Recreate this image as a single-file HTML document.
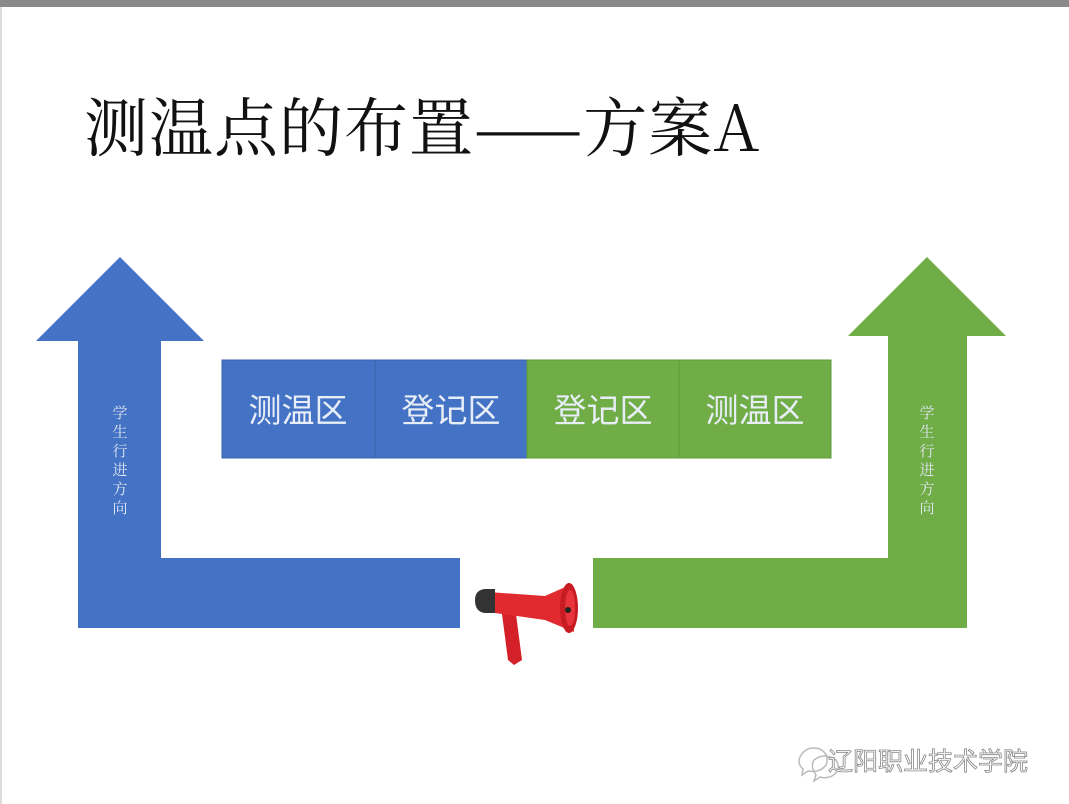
<!DOCTYPE html>
<html><head><meta charset="utf-8"><style>
html,body{margin:0;padding:0;}
body{width:1069px;height:804px;position:relative;background:#fff;overflow:hidden;font-family:"Liberation Sans","Noto Sans CJK SC",sans-serif;}
.t{position:absolute;}
</style></head><body>
<div class="t" style="left:0;top:0;width:1069px;height:7px;background:#8a8a8a"></div>
<div class="t" style="left:0;top:7px;width:2px;height:797px;background:#ddd"></div>
<div class="t" style="left:84px;top:84px;font-family:'Noto Serif CJK SC','Liberation Serif',serif;font-size:64px;line-height:80px;color:#111;white-space:nowrap;letter-spacing:1px">测温点的布置——方案A</div>
<svg class="t" style="left:0;top:0" width="1069" height="804">
<polygon points="120,257 204,341 161,341 161,558 460,558 460,628 78,628 78,341 36,341" fill="#4472c4"/>
<polygon points="927,257 1006,336 967,336 967,628 593,628 593,558 888,558 888,336 848,336" fill="#70ad47"/>
<rect x="222" y="360" width="153" height="98" fill="#4472c4" stroke="#3a63ad" stroke-width="1"/>
<rect x="375" y="360" width="152" height="98" fill="#4472c4" stroke="#3a63ad" stroke-width="1"/>
<rect x="527" y="360" width="152" height="98" fill="#70ad47" stroke="#5e9a3a" stroke-width="1"/>
<rect x="679" y="360" width="152" height="98" fill="#70ad47" stroke="#5e9a3a" stroke-width="1"/>
<g font-family="Noto Sans CJK SC, sans-serif" font-size="33" fill="#e8eef8" text-anchor="middle">
<text x="298" y="422">测温区</text><text x="451" y="422">登记区</text>
<text x="603" y="422">登记区</text><text x="755" y="422">测温区</text>
</g>
<g font-family="Noto Serif CJK SC, serif" font-size="15" fill="#dfe6f2" text-anchor="middle">
<text x="120" y="418">学</text><text x="120" y="437">生</text><text x="120" y="456">行</text><text x="120" y="475">进</text><text x="120" y="494">方</text><text x="120" y="513">向</text>
<text x="927" y="418">学</text><text x="927" y="437">生</text><text x="927" y="456">行</text><text x="927" y="475">进</text><text x="927" y="494">方</text><text x="927" y="513">向</text>
</g>
<!-- megaphone -->
<polygon points="502,614 516,614 522,660 514,665 508,660" fill="#d42028"/>
<polygon points="488,592 545,596 572,584 574,632 545,620 488,612" fill="#e02a30"/>
<path d="M475 600 q0-10 10-11 l10 0 l0 24 l-10 0 q-10-1-10-13z" fill="#333"/>
<ellipse cx="569" cy="608" rx="9" ry="25" fill="#c81c24"/>
<ellipse cx="570" cy="608" rx="5" ry="18" fill="#e8343a"/>
<circle cx="568" cy="610" r="3" fill="#222"/>
<g fill="none" stroke="#bbb" stroke-width="1.5">
<path d="M800 757 q6-12 20-8 q10 6 6 16 q-6 8-18 6 l-6 4 l1-6 q-6-5-3-12z"/>
<path d="M814 760 q10-8 22 0 q6 10-4 16 q-6 3-12 1 l-6 4 l2-6 q-6-8-2-15z"/>
</g>
<text x="828" y="770" font-family="Noto Sans CJK SC, sans-serif" font-size="25" fill="#fff" stroke="#888" stroke-width="0.8">辽阳职业技术学院</text>
</svg>
</body></html>
